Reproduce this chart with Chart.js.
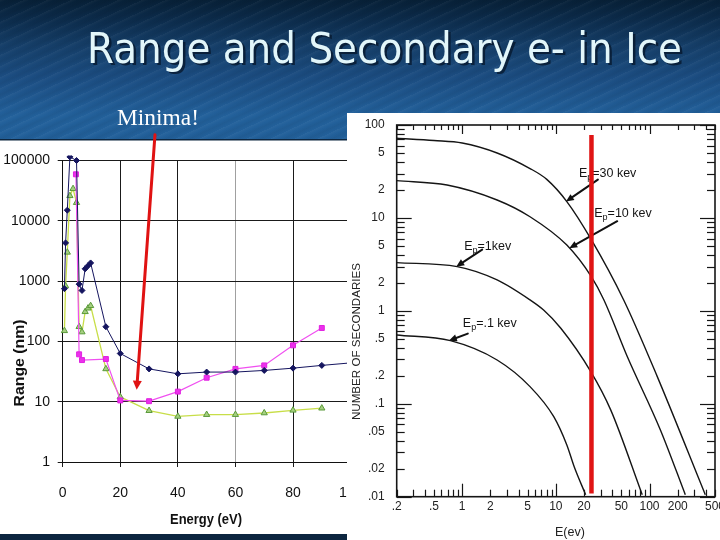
<!DOCTYPE html>
<html><head><meta charset="utf-8">
<script src="https://cdn.jsdelivr.net/npm/chart.js@4.4.1/dist/chart.umd.min.js"></script>
<style>
html,body{margin:0;padding:0;}
body{width:720px;height:540px;overflow:hidden;position:relative;
background:
 repeating-linear-gradient(155deg, rgba(255,255,255,0.045) 0px, rgba(255,255,255,0) 3px, rgba(0,0,0,0.05) 6px, rgba(255,255,255,0) 10px),
 linear-gradient(180deg,#072037 0px,#0c2c4c 20px,#153e68 45px,#1b4c80 75px,#22609a 115px,#1f5690 540px);}
#leftWrap{position:absolute;left:0;top:100px;width:347px;height:440px;overflow:hidden;}
#leftWrap canvas{position:absolute;left:0;top:0;}
#rightWrap{position:absolute;left:347px;top:113px;width:373px;height:427px;}
#overlay{position:absolute;left:0;top:0;z-index:5;pointer-events:none;}
</style></head>
<body>
<div id="leftWrap"><canvas id="leftChart" width="380" height="440"></canvas></div>
<div id="rightWrap"><canvas id="rightChart" width="373" height="427"></canvas></div>
<svg id="overlay" width="720" height="540" xmlns="http://www.w3.org/2000/svg">
  <text x="89.5" y="65" font-family="DejaVu Sans" font-size="42" fill="#06162a" fill-opacity="0.75" textLength="595" lengthAdjust="spacingAndGlyphs">Range and Secondary e- in Ice</text>
  <text x="87" y="62.7" font-family="DejaVu Sans" font-size="42" fill="#e2f6fa" textLength="595" lengthAdjust="spacingAndGlyphs">Range and Secondary e- in Ice</text>
  <text x="117" y="125" font-family="Liberation Serif" font-size="23" fill="#ffffff" textLength="82" lengthAdjust="spacingAndGlyphs">Minima!</text>
  <text transform="translate(24,363) rotate(-90)" text-anchor="middle" font-family="Liberation Sans" font-weight="bold" font-size="14" fill="#111" textLength="87" lengthAdjust="spacingAndGlyphs">Range (nm)</text>
  <text x="206" y="524" text-anchor="middle" font-family="Liberation Sans" font-weight="bold" font-size="14" fill="#111" textLength="72" lengthAdjust="spacingAndGlyphs">Energy (eV)</text>
  <text transform="translate(360,341.5) rotate(-90)" text-anchor="middle" font-family="Liberation Sans" font-size="11.5" fill="#222" textLength="157" lengthAdjust="spacingAndGlyphs">NUMBER OF SECONDARIES</text>
  <text x="570" y="536" text-anchor="middle" font-family="Liberation Sans" font-size="13" fill="#222" textLength="30" lengthAdjust="spacingAndGlyphs">E(ev)</text>
</svg>
<script>
// ---------- Left chart data: Range (nm) vs Energy (eV) ----------
const xTicksLeft = [0, 20, 40, 60, 80, 100];
const yTicksLeft = [1, 10, 100, 1000, 10000, 100000];
const blueEnergy  = [0.6, 1, 1.6, 2.5, 4.8, 5.7, 6.7, 7.8, 8.8, 9.7, 15, 20, 30, 40, 50, 60, 70, 80, 90, 100];
const blueRange   = [750, 4300, 15000, 115000, 100000, 890, 700, 1600, 1800, 2000, 175, 63, 35, 29, 31, 31, 33, 36, 40, 44];
const pinkEnergy  = [4.6, 5.7, 6.7, 15, 20, 30, 40, 50, 60, 70, 80, 90];
const pinkRange   = [59000, 61, 49, 51, 10.5, 10.2, 14.7, 25, 35, 40, 86, 167];
const greenEnergy = [0.6, 1, 1.6, 2.5, 3.6, 4.8, 5.7, 6.7, 7.8, 8.8, 9.7, 15, 20, 30, 40, 50, 60, 70, 80, 90];
const greenRange  = [150, 830, 3000, 26000, 34000, 20000, 175, 143, 310, 355, 390, 35, 12, 7.1, 5.7, 6.1, 6.1, 6.5, 7.2, 7.8];
const minimaEnergy = 25.7;
const minimaRange  = 15.8;

// ---------- Right chart data: Number of secondaries vs E (eV) ----------
const xTicksRight = [0.2, 0.5, 1, 2, 5, 10, 20, 50, 100, 200, 500];
const xTickLabelsRight = ['.2', '.5', '1', '2', '5', '10', '20', '50', '100', '200', '500'];
const yTicksRight = [0.01, 0.02, 0.05, 0.1, 0.2, 0.5, 1, 2, 5, 10, 20, 50, 100];
const yTickLabelsRight = ['.01', '.02', '.05', '.1', '.2', '.5', '1', '2', '5', '10', '2', '5', '100'];
const ep30E = [0.2, 0.5, 1, 2.36, 5.3, 8, 13.1, 24, 53, 121, 394];
const ep30N = [72, 68, 64, 50, 34, 26, 15, 5.8, 1.31, 0.196, 0.0105];
const ep10E = [0.2, 0.69, 2.36, 5.3, 13.1, 24, 32.6, 58, 131, 241];
const ep10N = [25.2, 22.6, 15.6, 10.3, 5.1, 2.32, 1.31, 0.321, 0.052, 0.0105];
const ep1E  = [0.2, 0.885, 2.36, 5.3, 7.4, 11.3, 23.6, 38.5, 83.6];
const ep1N  = [3.3, 2.99, 2.15, 1.31, 1.02, 0.65, 0.222, 0.086, 0.0105];
const ep01E = [0.2, 0.75, 2.36, 5.3, 9.5, 13.1, 15.7, 20.8];
const ep01N = [0.55, 0.478, 0.296, 0.153, 0.0726, 0.036, 0.021, 0.0105];
const curveLabels = ['=30 kev', '=10 kev', '=1kev', '=.1 kev'];
const arrowTipE = [12.8, 13.9, 0.863, 0.72];
const arrowTipN = [15, 4.72, 2.99, 0.478];
const markerE = [24, 24];
const markerN = [78, 0.0108];

const pts = (xs, ys) => xs.map((x, i) => ({x: x, y: ys[i]}));

function drawArrow(ctx, x1, y1, x2, y2, color, lw, headLen, headW) {
  const a = Math.atan2(y2 - y1, x2 - x1);
  ctx.save();
  ctx.strokeStyle = color; ctx.fillStyle = color; ctx.lineWidth = lw; ctx.lineCap = 'round';
  ctx.beginPath(); ctx.moveTo(x1, y1);
  ctx.lineTo(x2 - Math.cos(a) * headLen * 0.7, y2 - Math.sin(a) * headLen * 0.7); ctx.stroke();
  ctx.beginPath(); ctx.moveTo(x2, y2);
  ctx.lineTo(x2 - headLen * Math.cos(a) + headW * Math.sin(a), y2 - headLen * Math.sin(a) - headW * Math.cos(a));
  ctx.lineTo(x2 - headLen * Math.cos(a) - headW * Math.sin(a), y2 - headLen * Math.sin(a) + headW * Math.cos(a));
  ctx.closePath(); ctx.fill();
  ctx.restore();
}

// ---------- Left chart ----------
const leftDecor = {
  id: 'leftDecor',
  beforeDraw(chart) {
    const ctx = chart.ctx;
    ctx.save();
    ctx.fillStyle = '#ffffff'; ctx.fillRect(0, 40, chart.width, 394);
    ctx.fillStyle = '#0d2640'; ctx.fillRect(0, 434, chart.width, 6);
    ctx.fillStyle = '#0d2640'; ctx.fillRect(0, 39, chart.width, 1.5);
    ctx.restore();
  },
  afterDraw(chart) {
    const {x, y} = chart.scales;
    const tx = x.getPixelForValue(minimaEnergy), ty = y.getPixelForValue(minimaRange);
    drawArrow(chart.ctx, tx + 18.3, ty - 255, tx, ty, '#e01212', 3, 9, 4.5);
  }
};

new Chart(document.getElementById('leftChart'), {
  type: 'line',
  data: {
    datasets: [
      {data: pts(blueEnergy, blueRange), borderColor: '#15155f', backgroundColor: '#15155f', borderWidth: 1,
       pointStyle: 'rectRot', pointRadius: 3, pointBorderWidth: 1, tension: 0, clip: {left: 2, top: 5, right: 30, bottom: 2}},
      {data: pts(pinkEnergy, pinkRange), borderColor: '#f050f0', backgroundColor: '#ec30ec', borderWidth: 1.2,
       pointStyle: 'rect', pointRadius: 3.5, pointBorderWidth: 1, pointBorderColor: '#e020e0', tension: 0, clip: {left: 2, top: 5, right: 30, bottom: 2}},
      {data: pts(greenEnergy, greenRange), borderColor: '#c8de48', backgroundColor: '#a5cf80', borderWidth: 1.3,
       pointStyle: 'triangle', pointRadius: 3.6, pointBorderWidth: 1, pointBorderColor: '#5a9a3a', tension: 0, clip: {left: 2, top: 5, right: 30, bottom: 2}}
    ]
  },
  options: {
    responsive: false, animation: false, events: [],
    layout: {padding: {left: 0, right: 29.4, top: 60.5, bottom: 0}},
    plugins: {legend: {display: false}, tooltip: {enabled: false}},
    scales: {
      x: {
        type: 'linear', min: 0, max: 100,
        afterBuildTicks: s => { s.ticks = xTicksLeft.map(v => ({value: v})); },
        afterFit: s => { s.height = 78; s.paddingLeft = 0; s.paddingRight = 0; },
        grid: {color: c => (c.tick && c.tick.value === 60) ? '#a0a0a0' : '#1a1a1a', lineWidth: 1, tickLength: 5, tickColor: '#1a1a1a'},
        border: {color: '#111', width: 1},
        ticks: {autoSkip: false, maxRotation: 0, padding: 18, color: '#111', font: {family: 'Liberation Sans', size: 14},
                callback: v => String(v)}
      },
      y: {
        type: 'logarithmic', min: 1, max: 100000,
        afterBuildTicks: s => { s.ticks = yTicksLeft.map(v => ({value: v})); },
        afterFit: s => { s.width = 62.7; s.paddingTop = 0; s.paddingBottom = 0; },
        grid: {color: '#1a1a1a', lineWidth: 1, tickLength: 5, tickColor: '#1a1a1a'},
        border: {color: '#111', width: 1},
        ticks: {autoSkip: false, padding: 7.7, color: '#111', font: {family: 'Liberation Sans', size: 14},
                callback: v => String(v)}
      }
    }
  },
  plugins: [leftDecor]
});

// ---------- Right chart ----------
const tailOffsets = [[32, -22], [48, -27], [26, -17], [19, -7]];
const labelOffsets = [[13, -25], [25, -31], [8, -17], [14, -14]];

const rightDecor = {
  id: 'rightDecor',
  beforeDraw(chart) {
    const ctx = chart.ctx;
    ctx.save(); ctx.fillStyle = '#ffffff'; ctx.fillRect(0, 0, chart.width, chart.height); ctx.restore();
  },
  beforeDatasetsDraw(chart) {
    const {ctx, chartArea: a} = chart;
    const {x, y} = chart.scales;
    ctx.save();
    ctx.strokeStyle = '#161616';
    ctx.lineWidth = 1.6;
    ctx.strokeRect(a.left, a.top, a.right - a.left, a.bottom - a.top);
    ctx.lineWidth = 1.2;
    const seg = (x1, y1, x2, y2) => { ctx.beginPath(); ctx.moveTo(x1, y1); ctx.lineTo(x2, y2); ctx.stroke(); };
    for (let k = -1; k <= 2; k++) {
      for (let m = 1; m <= 9; m++) {
        const v = m * Math.pow(10, k);
        if (v < 0.2 - 1e-9 || v > 500 + 1e-9) continue;
        const px = Math.round(x.getPixelForValue(v)) + 0.5;
        const major = m === 1;
        seg(px, a.bottom, px, a.bottom - (major ? 13 : 7));
        seg(px, a.top, px, a.top + (major ? 9 : 5));
      }
    }
    for (let k = -2; k <= 2; k++) {
      for (let m = 1; m <= 9; m++) {
        const v = m * Math.pow(10, k);
        if (v < 0.01 - 1e-12 || v > 100 + 1e-9) continue;
        const py = Math.round(y.getPixelForValue(v)) + 0.5;
        const len = m === 1 ? 15 : 8;
        seg(a.left, py, a.left + len, py);
        seg(a.right, py, a.right - len, py);
      }
    }
    ctx.restore();
    // curve labels with arrows
    for (let i = 0; i < curveLabels.length; i++) {
      const tx = x.getPixelForValue(arrowTipE[i]), ty = y.getPixelForValue(arrowTipN[i]);
      drawArrow(ctx, tx + tailOffsets[i][0], ty + tailOffsets[i][1], tx, ty, '#111', 2, 8, 3.5);
      let lx = tx + labelOffsets[i][0], ly = ty + labelOffsets[i][1];
      ctx.save();
      ctx.fillStyle = '#151515'; ctx.textBaseline = 'alphabetic'; ctx.textAlign = 'left';
      ctx.font = '12.5px "Liberation Sans"';
      ctx.fillText('E', lx, ly); lx += ctx.measureText('E').width;
      ctx.font = '9px "Liberation Sans"';
      ctx.fillText('p', lx, ly + 3); lx += ctx.measureText('p').width;
      ctx.font = '12.5px "Liberation Sans"';
      ctx.fillText(curveLabels[i], lx, ly);
      ctx.restore();
    }
  }
};

const curveStyle = {borderColor: '#151515', borderWidth: 1.4, pointRadius: 0, cubicInterpolationMode: 'monotone', order: 1};

new Chart(document.getElementById('rightChart'), {
  type: 'line',
  data: {
    datasets: [
      {data: pts(markerE, markerN), borderColor: '#e01414', borderWidth: 4.5, pointRadius: 0, tension: 0, order: 0},
      Object.assign({data: pts(ep30E, ep30N)}, curveStyle),
      Object.assign({data: pts(ep10E, ep10N)}, curveStyle),
      Object.assign({data: pts(ep1E, ep1N)}, curveStyle),
      Object.assign({data: pts(ep01E, ep01N)}, curveStyle)
    ]
  },
  options: {
    responsive: false, animation: false, events: [],
    layout: {padding: {left: 0, right: 5, top: 12, bottom: 0}},
    plugins: {legend: {display: false}, tooltip: {enabled: false}},
    scales: {
      x: {
        type: 'logarithmic', min: 0.2, max: 500,
        afterBuildTicks: s => { s.ticks = xTicksRight.map(v => ({value: v})); },
        afterFit: s => { s.height = 43.3; s.paddingLeft = 0; s.paddingRight = 0; },
        grid: {display: false}, border: {display: false},
        ticks: {autoSkip: false, maxRotation: 0, padding: -5, color: '#222', font: {family: 'Liberation Sans', size: 12},
                callback: (v, i) => xTickLabelsRight[i]}
      },
      y: {
        type: 'logarithmic', min: 0.01, max: 100,
        afterBuildTicks: s => { s.ticks = yTicksRight.map(v => ({value: v})); },
        afterFit: s => { s.width = 49.7; s.paddingTop = 0; s.paddingBottom = 0; },
        grid: {display: false}, border: {display: false},
        ticks: {autoSkip: false, padding: 4, color: '#222', font: {family: 'Liberation Sans', size: 12},
                callback: (v, i) => yTickLabelsRight[i]}
      }
    }
  },
  plugins: [rightDecor]
});
</script>
</body></html>
